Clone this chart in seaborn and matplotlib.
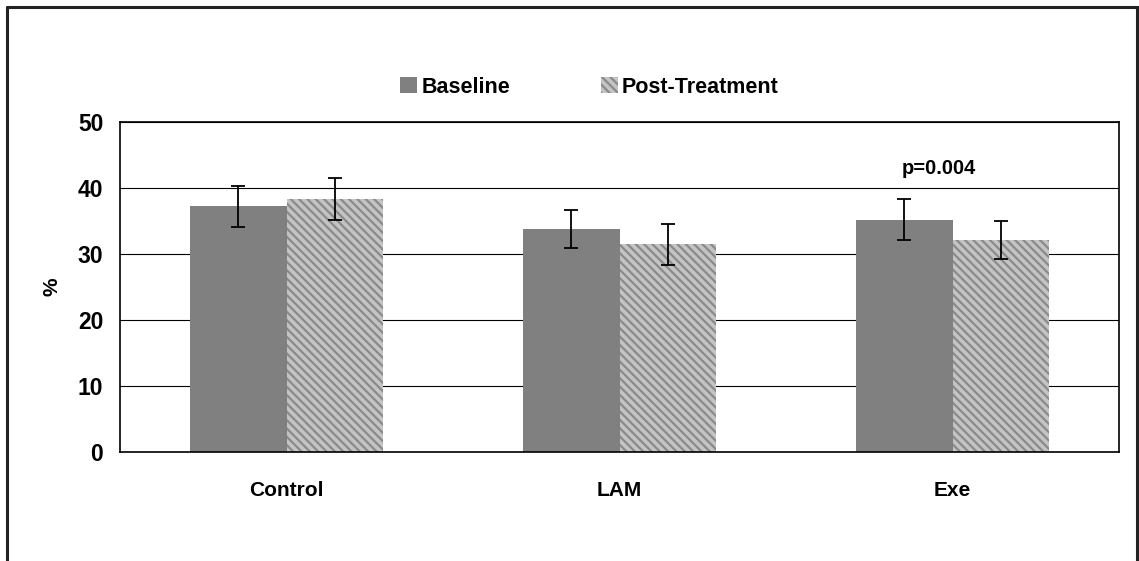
import matplotlib
matplotlib.use("Agg")
import matplotlib.pyplot as plt
import seaborn as sns
import pandas as pd
import numpy as np
from matplotlib.lines import Line2D
from matplotlib.patches import Patch

categories = ["Control", "LAM", "Exe"]
series = ["Baseline", "Post-Treatment"]
baseline = [37.2, 33.8, 35.2]
post = [38.3, 31.5, 32.1]
baseline_err = [3.1, 2.9, 3.1]
post_err = [3.2, 3.1, 2.9]
yticks = [0, 10, 20, 30, 40, 50]
annotation = "p=0.004"

sns.set_style("white")
plt.rcParams['font.family'] = ['Liberation Sans', 'DejaVu Sans']
plt.rcParams['font.weight'] = 'bold'
plt.rcParams['text.color'] = 'black'
plt.rcParams['axes.labelcolor'] = 'black'
plt.rcParams['xtick.color'] = 'black'
plt.rcParams['ytick.color'] = 'black'
plt.rcParams['hatch.linewidth'] = 1.6
plt.rcParams['hatch.color'] = '#8a8a8a'

df = pd.DataFrame({
    "cat": categories * 2,
    "series": [series[0]] * 3 + [series[1]] * 3,
    "val": baseline + post,
})

fig = plt.figure(figsize=(11.39, 5.61), dpi=100)
ax = fig.add_axes([120/1139, 109/561, 999/1139, 330/561])

base_col = "#808080"
post_col = "#c4c4c4"
sns.barplot(data=df, x="cat", y="val", hue="series", order=categories,
            hue_order=series, palette=[base_col, post_col], width=0.58,
            gap=0, errorbar=None, linewidth=0, edgecolor="none", ax=ax,
            legend=False, zorder=2)

errs = [baseline_err, post_err]
bar_containers = list(ax.containers)
for ci, cont in enumerate(bar_containers):
    for bi, p in enumerate(list(cont.patches)):
        if ci == 1:
            p.set_hatch("\\\\\\\\")
            p.set_edgecolor("#8a8a8a")
            p.set_linewidth(0)
        xc = p.get_x() + p.get_width() / 2
        ax.errorbar(xc, p.get_height(), yerr=errs[ci][bi], fmt="none",
                    ecolor="black", elinewidth=1.3, capsize=5, capthick=1.3,
                    zorder=4)

ax.set_ylim(0, 50)
ax.set_xlim(-0.5, 2.5)
ax.set_yticks(yticks)
ax.yaxis.grid(True, color="black", linewidth=0.8, zorder=0)
ax.set_axisbelow(True)
for s in ax.spines.values():
    s.set_visible(True)
    s.set_color("black")
    s.set_linewidth(1.2)
ax.tick_params(axis="y", length=0, pad=12, labelsize=16.5)
ax.tick_params(axis="x", length=0, pad=21, labelsize=15)
for lab in ax.get_xticklabels() + ax.get_yticklabels():
    lab.set_fontweight("bold")
ax.set_xlabel("")
ax.set_ylabel("%", fontsize=15, fontweight="bold", labelpad=12)

ax.text(1.96, 43.0, annotation, ha="center", va="center", fontsize=14.5,
        fontweight="bold")

handles = [Patch(facecolor=base_col, edgecolor="none"),
           Patch(facecolor=post_col, edgecolor="#8a8a8a", hatch="\\\\\\\\", linewidth=0)]
ax.legend(handles, series, ncol=2, loc="center", bbox_to_anchor=(0.470, 1.106),
          frameon=False, handlelength=0.78, handleheight=0.78,
          handletextpad=0.2, columnspacing=4.2, prop={'weight': 'bold', 'size': 15.5})

# figure border (left, top, right)
fig.add_artist(Line2D([7/1139, 7/1139], [0, 1 - 7/561], color="#222222", lw=2.2, transform=fig.transFigure))
fig.add_artist(Line2D([7/1139, 1138/1139], [1 - 7/561, 1 - 7/561], color="#222222", lw=2.2, transform=fig.transFigure))
fig.add_artist(Line2D([1137/1139, 1137/1139], [0, 1 - 7/561], color="#222222", lw=2.2, transform=fig.transFigure))

fig.savefig("out.png", dpi=100)
